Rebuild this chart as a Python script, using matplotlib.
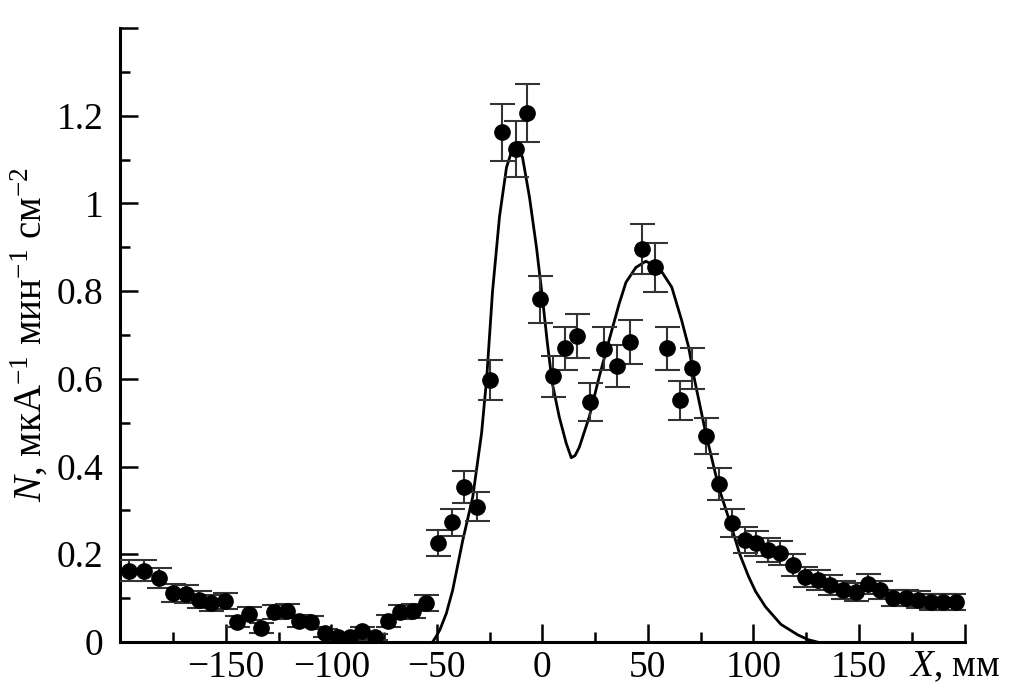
import numpy as np
import matplotlib
matplotlib.use("Agg")
from matplotlib import pyplot as plt
from matplotlib.ticker import MultipleLocator

plt.rcParams['font.family'] = ['Liberation Serif', 'DejaVu Serif']
plt.rcParams['mathtext.fontset'] = 'custom'
plt.rcParams['mathtext.rm'] = 'Liberation Serif'
plt.rcParams['mathtext.it'] = 'Liberation Serif:italic'

# measured points
x_pts = [-195.8, -188.7, -181.6, -175.0, -168.9, -162.7, -157.1, -150.5, -144.8, -139.2,
         -133.5, -126.9, -120.8, -115.1, -109.4, -102.8, -96.7, -91.0, -85.4, -79.2,
         -73.1, -67.5, -61.3, -55.2, -49.5, -42.9, -37.3, -31.1, -25.0, -18.9,
         -12.7, -7.1, -0.9, 5.2, 10.8, 16.5, 22.6, 29.2, 35.4, 41.5,
         47.2, 53.3, 59.0, 65.1, 70.8, 77.4, 83.5, 89.6, 95.8, 101.4,
         107.1, 112.7, 118.9, 124.5, 130.7, 136.3, 142.5, 148.6, 154.2, 159.9,
         166.0, 172.2, 177.8, 184.0, 189.6, 195.8]
y_pts = [0.162, 0.162, 0.146, 0.112, 0.109, 0.096, 0.089, 0.093, 0.046, 0.064,
         0.032, 0.068, 0.071, 0.048, 0.046, 0.021, 0.011, 0.011, 0.025, 0.011,
         0.048, 0.068, 0.071, 0.089, 0.226, 0.273, 0.353, 0.308, 0.597, 1.162,
         1.125, 1.207, 0.781, 0.606, 0.670, 0.697, 0.547, 0.668, 0.629, 0.684,
         0.897, 0.854, 0.670, 0.551, 0.624, 0.469, 0.360, 0.271, 0.232, 0.225,
         0.209, 0.203, 0.175, 0.148, 0.141, 0.130, 0.118, 0.114, 0.132, 0.118,
         0.100, 0.100, 0.096, 0.091, 0.091, 0.091]
y_err = [0.024, 0.024, 0.023, 0.020, 0.020, 0.019, 0.018, 0.018, 0.013, 0.015,
         0.011, 0.016, 0.016, 0.013, 0.013, 0.009, 0.006, 0.006, 0.009, 0.006,
         0.013, 0.016, 0.016, 0.018, 0.029, 0.031, 0.036, 0.033, 0.046, 0.065,
         0.064, 0.066, 0.053, 0.047, 0.049, 0.050, 0.044, 0.049, 0.048, 0.050,
         0.057, 0.055, 0.049, 0.045, 0.047, 0.041, 0.036, 0.031, 0.029, 0.028,
         0.027, 0.027, 0.025, 0.023, 0.023, 0.022, 0.021, 0.020, 0.022, 0.021,
         0.019, 0.019, 0.019, 0.018, 0.018, 0.018]

# model curve
x_fit = [-52, -50.5, -48.6, -45.5, -42.5, -37.7, -33, -28.8, -26.4, -25, -23.6, -20.3,
         -17, -14.5, -12.3, -9.4, -6.1, -2.8, 0, 2.4, 4.7, 8, 11.3, 13.7,
         15.5, 17.5, 22.2, 26.9, 31.6, 36.3, 39.6, 44.3, 49, 55.2, 61.3, 66,
         69.3, 72, 77.4, 83.5, 89.6, 93.5, 97.6, 101, 105.7, 113, 121, 126, 130]
y_fit = [0.0, 0.011, 0.027, 0.065, 0.118, 0.232, 0.33, 0.476, 0.6, 0.70, 0.80, 0.97,
         1.082, 1.12, 1.13, 1.105, 1.014, 0.9, 0.786, 0.68, 0.59, 0.513, 0.453, 0.42,
         0.425, 0.444, 0.513, 0.604, 0.688, 0.77, 0.82, 0.854, 0.868, 0.854, 0.809, 0.733,
         0.672, 0.60, 0.476, 0.353, 0.262, 0.20, 0.15, 0.115, 0.08, 0.04, 0.016, 0.005, 0.0]

x_ticks = [-150, -100, -50, 0, 50, 100, 150]
y_ticks = [0, 0.2, 0.4, 0.6, 0.8, 1.0, 1.2]
y_labels = ["0", "0.2", "0.4", "0.6", "0.8", "1", "1.2"]

fig = plt.figure(figsize=(10.1, 7.0), dpi=100)
ax = fig.add_axes([0.119, 0.083, 0.836, 0.877])

ax.plot(x_fit, y_fit, color="black", lw=2.0, zorder=2)
ax.errorbar(x_pts, y_pts, yerr=y_err, fmt="o", color="black", ms=11,
            ecolor="#333333", elinewidth=1.5, capsize=9, capthick=1.5, zorder=3)

ax.set_xlim(-200, 200)
ax.set_ylim(0, 1.4)
ax.spines['top'].set_visible(False)
ax.spines['right'].set_visible(False)
for s in ['left', 'bottom']:
    ax.spines[s].set_linewidth(2.2)

ax.xaxis.set_major_locator(MultipleLocator(50))
ax.xaxis.set_minor_locator(MultipleLocator(25))
ax.yaxis.set_major_locator(MultipleLocator(0.2))
ax.yaxis.set_minor_locator(MultipleLocator(0.1))
ax.tick_params(which="major", direction="in", length=13, width=1.8, labelsize=27, pad=6)
ax.tick_params(which="minor", direction="in", length=7, width=1.8)
ax.tick_params(axis="y", which="major", pad=12)

xt = [-200] + x_ticks + [200]
ax.set_xticks(xt)
ax.set_xticklabels([""] + [str(v).replace("-", "\u2212") for v in x_ticks] + [""])
ax.set_yticks(y_ticks + [1.4])
ax.set_yticklabels(y_labels + [""])

ax.text(0.988, -0.012, "$X$, мм", transform=ax.transAxes, ha="center", va="top", fontsize=27)
ax.set_ylabel("$N$, мкА$^{-1}$ мин$^{-1}$ см$^{-2}$", fontsize=28, labelpad=4)

fig.savefig("out.png", dpi=100)
